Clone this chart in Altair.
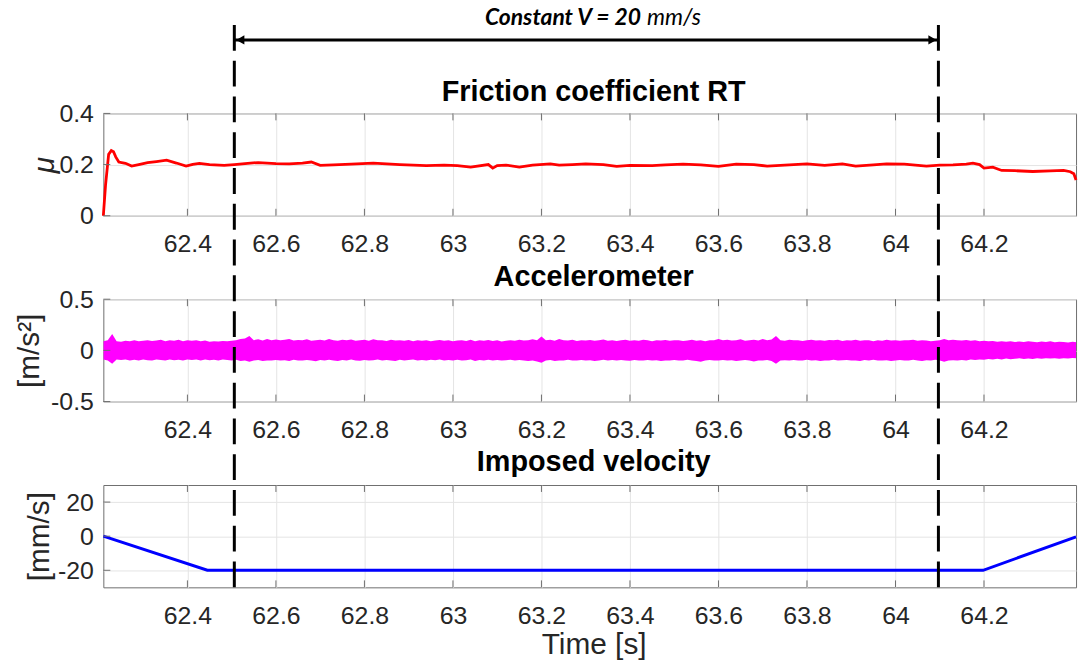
import altair as alt
import pandas as pd

# ---- shared time axis ----
x_domain = [62.21, 64.408]
x_ticks = [62.4, 62.6, 62.8, 63.0, 63.2, 63.4, 63.6, 63.8, 64.0, 64.2]

# constant-velocity window (dashed markers)
window_t = [62.506, 64.097]

# ---- friction coefficient RT ----
fric_t = [62.21, 62.215, 62.222, 62.228, 62.233, 62.238, 62.245, 62.26, 62.274, 62.29,
          62.31, 62.33, 62.353, 62.375, 62.397, 62.412, 62.427, 62.45, 62.483, 62.506,
          62.53, 62.56, 62.6, 62.63, 62.66, 62.68, 62.7, 62.73, 62.77, 62.82,
          62.85, 62.88, 62.94, 62.98, 63.01, 63.04, 63.08, 63.09, 63.1, 63.12,
          63.15, 63.18, 63.22, 63.24, 63.27, 63.3, 63.34, 63.37, 63.4, 63.45,
          63.48, 63.52, 63.56, 63.6, 63.64, 63.68, 63.71, 63.75, 63.8, 63.84,
          63.88, 63.91, 63.95, 63.98, 64.02, 64.07, 64.1, 64.13, 64.16, 64.175,
          64.19, 64.2, 64.22, 64.24, 64.27, 64.31, 64.35, 64.38, 64.395, 64.403, 64.408]
fric_mu = [0.0, 0.12, 0.24, 0.255, 0.25, 0.23, 0.21, 0.205, 0.194, 0.2,
           0.208, 0.212, 0.217, 0.206, 0.194, 0.201, 0.205, 0.2, 0.197, 0.2,
           0.204, 0.208, 0.204, 0.203, 0.206, 0.21, 0.197, 0.199, 0.202, 0.206,
           0.203, 0.2, 0.196, 0.198, 0.196, 0.19, 0.2, 0.186, 0.196, 0.198,
           0.19, 0.198, 0.203, 0.198, 0.2, 0.203, 0.2, 0.193, 0.197, 0.196,
           0.199, 0.202, 0.199, 0.193, 0.202, 0.2, 0.194, 0.198, 0.203, 0.197,
           0.203, 0.194, 0.199, 0.203, 0.202, 0.194, 0.198, 0.199, 0.202, 0.206,
           0.2, 0.186, 0.19, 0.177, 0.176, 0.173, 0.175, 0.177, 0.172, 0.164, 0.14]
fric_ticks = [0.0, 0.2, 0.4]

# ---- accelerometer: upper / lower envelope every 10 ms from 62.21 s ----
acc_start, acc_step = 62.21, 0.01
acc_upper = [
    0.09, 0.10, 0.16, 0.09, 0.085, 0.095, 0.09, 0.1, 0.088, 0.094, 0.1, 0.092, 0.097, 0.105, 0.09, 0.1, 0.095, 0.103, 0.09, 0.098,
    0.094, 0.1, 0.088, 0.096, 0.085, 0.09, 0.086, 0.092, 0.088, 0.095, 0.1, 0.11, 0.115, 0.14, 0.1, 0.108, 0.096, 0.112, 0.1, 0.106,
    0.098, 0.104, 0.11, 0.096, 0.102, 0.1, 0.108, 0.094, 0.1, 0.105, 0.097, 0.11, 0.1, 0.095, 0.104, 0.098, 0.106, 0.093, 0.1, 0.103,
    0.095, 0.108, 0.098, 0.1, 0.092, 0.104, 0.097, 0.1, 0.094, 0.102, 0.09, 0.098, 0.095, 0.1, 0.088, 0.097, 0.102, 0.093, 0.099, 0.09,
    0.096, 0.1, 0.092, 0.104, 0.09, 0.098, 0.095, 0.101, 0.092, 0.1, 0.086, 0.095, 0.1, 0.093, 0.104, 0.096, 0.1, 0.108, 0.098, 0.135,
    0.1, 0.105, 0.095, 0.11, 0.1, 0.096, 0.104, 0.092, 0.1, 0.097, 0.102, 0.094, 0.1, 0.106, 0.095, 0.1, 0.092, 0.098, 0.103, 0.095,
    0.1, 0.094, 0.104, 0.098, 0.09, 0.1, 0.096, 0.102, 0.093, 0.098, 0.1, 0.092, 0.097, 0.104, 0.095, 0.1, 0.09, 0.098, 0.1, 0.11,
    0.1, 0.105, 0.096, 0.1, 0.108, 0.095, 0.1, 0.103, 0.096, 0.11, 0.1, 0.106, 0.14, 0.1, 0.095, 0.104, 0.098, 0.1, 0.092, 0.1,
    0.105, 0.096, 0.1, 0.094, 0.102, 0.098, 0.104, 0.092, 0.1, 0.096, 0.103, 0.094, 0.1, 0.098, 0.09, 0.1, 0.095, 0.104, 0.097, 0.1,
    0.093, 0.1, 0.098, 0.105, 0.094, 0.1, 0.097, 0.088, 0.094, 0.1, 0.11, 0.098, 0.104, 0.1, 0.096, 0.102, 0.093, 0.098, 0.09, 0.095,
    0.088, 0.092, 0.085, 0.09, 0.084, 0.088, 0.082, 0.087, 0.083, 0.09, 0.085, 0.08, 0.086, 0.082, 0.088, 0.08, 0.085, 0.083, 0.078, 0.084, 0.08,
]
acc_lower = [
    -0.09, -0.1, -0.13, -0.09, -0.095, -0.088, -0.1, -0.092, -0.098, -0.09, -0.096, -0.1, -0.09, -0.094, -0.1, -0.088, -0.097, -0.092, -0.1, -0.09,
    -0.095, -0.088, -0.1, -0.09, -0.096, -0.092, -0.098, -0.09, -0.094, -0.1, -0.092, -0.105, -0.098, -0.11, -0.1, -0.095, -0.104, -0.098, -0.1, -0.094,
    -0.1, -0.096, -0.105, -0.092, -0.1, -0.098, -0.094, -0.1, -0.107, -0.095, -0.1, -0.092, -0.098, -0.104, -0.095, -0.1, -0.09, -0.098, -0.102, -0.094,
    -0.1, -0.096, -0.09, -0.1, -0.094, -0.098, -0.104, -0.092, -0.1, -0.095, -0.09, -0.098, -0.094, -0.1, -0.092, -0.097, -0.09, -0.1, -0.094, -0.098,
    -0.092, -0.1, -0.096, -0.09, -0.104, -0.095, -0.1, -0.092, -0.098, -0.094, -0.1, -0.096, -0.092, -0.1, -0.095, -0.098, -0.104, -0.1, -0.108, -0.12,
    -0.1, -0.095, -0.104, -0.098, -0.1, -0.092, -0.098, -0.1, -0.094, -0.1, -0.096, -0.104, -0.098, -0.092, -0.1, -0.095, -0.1, -0.094, -0.098, -0.102,
    -0.095, -0.1, -0.098, -0.094, -0.1, -0.096, -0.104, -0.098, -0.1, -0.094, -0.1, -0.098, -0.092, -0.1, -0.105, -0.11, -0.1, -0.095, -0.098, -0.1,
    -0.094, -0.1, -0.097, -0.104, -0.1, -0.095, -0.1, -0.108, -0.098, -0.1, -0.095, -0.104, -0.13, -0.1, -0.096, -0.1, -0.094, -0.1, -0.098, -0.092,
    -0.1, -0.096, -0.104, -0.098, -0.1, -0.092, -0.1, -0.097, -0.094, -0.1, -0.098, -0.104, -0.095, -0.1, -0.092, -0.098, -0.1, -0.096, -0.104, -0.1,
    -0.094, -0.1, -0.098, -0.092, -0.1, -0.104, -0.096, -0.1, -0.092, -0.098, -0.11, -0.1, -0.096, -0.1, -0.094, -0.098, -0.09, -0.095, -0.088, -0.092,
    -0.085, -0.09, -0.082, -0.088, -0.08, -0.086, -0.082, -0.078, -0.085, -0.08, -0.084, -0.078, -0.082, -0.076, -0.08, -0.078, -0.082, -0.076, -0.08, -0.075, -0.078,
]
acc_t = [round(acc_start + acc_step * i, 2) for i in range(len(acc_upper))]
acc_ticks = [-0.5, 0.0, 0.5]

# ---- imposed velocity ----
vel_t = [62.21, 62.445, 64.198, 64.408]
vel_mm_s = [0, -20, -20, -0.4]
vel_ticks = [-20, 0, 20]

# ---- layout / style ----
W, H = 979, 103
GAP = 84
LEFT, TOP = 103, 111
FONT = "Liberation Sans"
LABEL_COL = "#262626"
BOX_COL = "#6f6f6f"
GRID_COL = "#e4e4e4"
TITLE_SIZE = 29
AXIS_TITLE_SIZE = 30

fric_df = pd.DataFrame({"t": fric_t, "v": fric_mu})
acc_df = pd.DataFrame({"t": acc_t, "v": acc_upper, "v2": acc_lower})
vel_df = pd.DataFrame({"t": vel_t, "v": vel_mm_s})
xtick_df = pd.DataFrame({"t": x_ticks})
win_df = pd.DataFrame({"t": window_t})
span_df = pd.DataFrame({"t": [window_t[0]], "t2": [window_t[1]]})
mid_df = pd.DataFrame({"t": [sum(window_t) / 2]})
one_df = pd.DataFrame({"k": [0]})

MINUS_FIX = "replace(format(datum.value, '~g'), '\u2212', '-')"
X_SCALE = alt.Scale(domain=x_domain, nice=False, zero=False)


def x_enc(title=None):
    kw = dict(
        values=x_ticks, format="~g", grid=True, gridColor=GRID_COL, ticks=False, tickSize=0,
        domain=False, labelFontSize=25, labelPadding=16, labelColor=LABEL_COL, labelFont=FONT,
        labelFlush=False, labelOverlap=False,
    )
    if title is not None:
        kw.update(title=title, titleFont=FONT, titleFontSize=AXIS_TITLE_SIZE, titleFontWeight="normal",
                  titleColor=LABEL_COL, titleX=W / 2 + 4, titleY=58, titleBaseline="middle")
    else:
        kw.update(title=None)
    return alt.X("t:Q", scale=X_SCALE, axis=alt.Axis(**kw))


def y_enc(domain, ticks, title, title_x, title_style="normal"):
    return alt.Y(
        "v:Q",
        scale=alt.Scale(domain=domain, nice=False, zero=False),
        axis=alt.Axis(
            values=ticks, labelExpr=MINUS_FIX, grid=True, gridColor=GRID_COL, ticks=False,
            tickSize=0, domain=False, labelFontSize=25, labelPadding=10, labelColor=LABEL_COL,
            labelFont=FONT, labelFlush=False, labelOverlap=False,
            title=title, titleFont=FONT, titleFontSize=AXIS_TITLE_SIZE, titleFontWeight="normal",
            titleFontStyle=title_style,
            titleColor=LABEL_COL, titleX=title_x, titleY=H / 2, titleBaseline="middle",
            titleAlign="center", titleAngle=270,
        ),
    )


def tick_layers(xe, ye, y_ticks):
    ytick_df = pd.DataFrame({"v": y_ticks})
    top = alt.Chart(xtick_df).mark_rule(color=BOX_COL, strokeWidth=1).encode(
        x=xe, y=alt.value(0), y2=alt.value(7))
    bottom = alt.Chart(xtick_df).mark_rule(color=BOX_COL, strokeWidth=1).encode(
        x=xe, y=alt.value(H - 7), y2=alt.value(H))
    left = alt.Chart(ytick_df).mark_rule(color=BOX_COL, strokeWidth=1).encode(
        y=ye, x=alt.value(0), x2=alt.value(7))
    return [top, bottom, left]


def panel_title(text, dy):
    return alt.Chart(one_df).mark_text(
        text=text, font=FONT, fontSize=TITLE_SIZE, fontWeight="bold", color="black",
        align="center", baseline="middle",
    ).encode(x=alt.value(W / 2 + 4), y=alt.value(dy))


# panel 1: friction coefficient
xe1 = x_enc()
ye1 = y_enc([0, 0.4], fric_ticks, "\u03bc", -59, "italic")
fric_line = alt.Chart(fric_df).mark_line(color="#ff0000", strokeWidth=2.8).encode(x=xe1, y=ye1)
# invisible anchor pinning the page origin relative to the first plot area
anchor = alt.Chart(one_df).mark_rule(strokeOpacity=0, strokeWidth=0).encode(
    x=alt.value(-LEFT), x2=alt.value(-LEFT), y=alt.value(-TOP), y2=alt.value(-TOP))
arrow_line = alt.Chart(span_df).mark_rule(color="black", strokeWidth=3).encode(
    x=xe1, x2="t2:Q", y=alt.value(-74))
head_l = alt.Chart(win_df.iloc[[0]]).mark_point(
    shape="triangle-left", filled=True, color="black", size=90, opacity=1, xOffset=6
).encode(x=xe1, y=alt.value(-74))
head_r = alt.Chart(win_df.iloc[[1]]).mark_point(
    shape="triangle-right", filled=True, color="black", size=90, opacity=1, xOffset=-6
).encode(x=xe1, y=alt.value(-74))
label_bold = alt.Chart(mid_df).mark_text(
    text="Constant V = 20", font="Lato", fontSize=23, fontWeight="bold", fontStyle="italic",
    align="right", baseline="middle", dx=55, color="black"
).encode(x=xe1, y=alt.value(-96))
label_unit = alt.Chart(mid_df).mark_text(
    text="mm/s", font="Lato", fontSize=23, fontStyle="italic",
    align="left", baseline="middle", dx=61, color="black"
).encode(x=xe1, y=alt.value(-96))
top = alt.layer(
    anchor, fric_line, *tick_layers(xe1, ye1, fric_ticks), arrow_line, head_l, head_r,
    label_bold, label_unit, panel_title("Friction coefficient RT", -21),
).properties(width=W, height=H)

# panel 2: accelerometer
xe2 = x_enc()
ye2 = y_enc([-0.5, 0.5], acc_ticks, "[m/s\u00b2]", -74)
acc_band = alt.Chart(acc_df).mark_area(color="#ff00ff", opacity=1, line=False, clip=True).encode(
    x=xe2, y=ye2, y2="v2:Q")
mid = alt.layer(
    acc_band, *tick_layers(xe2, ye2, acc_ticks), panel_title("Accelerometer", -22)
).properties(width=W, height=H)

# panel 3: imposed velocity + dashed window markers spanning all panels
xe3 = x_enc("Time [s]")
ye3 = y_enc([-30, 30], vel_ticks, "[mm/s]", -64)
vel_line = alt.Chart(vel_df).mark_line(color="#0000ff", strokeWidth=3).encode(x=xe3, y=ye3)
win_rules = alt.Chart(win_df).mark_rule(color="black", strokeWidth=3, strokeDash=[26, 10]).encode(
    x=xe3, y=alt.value(22 - (TOP + 2 * (H + GAP))), y2=alt.value(H + 3))
bot = alt.layer(
    vel_line, *tick_layers(xe3, ye3, vel_ticks), win_rules, panel_title("Imposed velocity", -23)
).properties(width=W, height=H)

chart = alt.vconcat(top, mid, bot, spacing=GAP, bounds="flush").properties(
    padding=0, background="white",
).configure_view(stroke=BOX_COL, strokeWidth=1)

chart.save("out.html", embed_options={"renderer": "svg", "actions": False})
